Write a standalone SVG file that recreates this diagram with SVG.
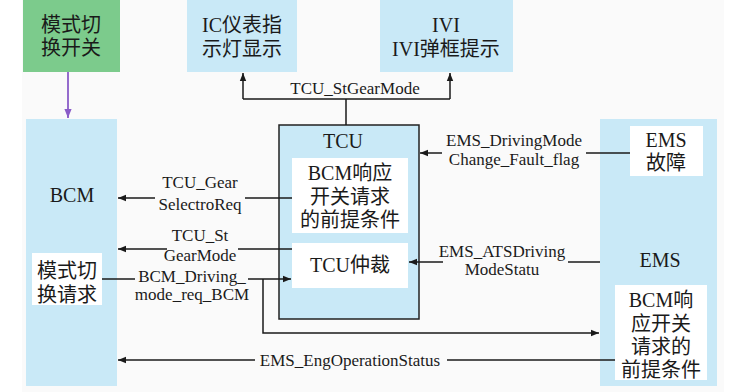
<svg xmlns="http://www.w3.org/2000/svg" width="733" height="392" viewBox="0 0 733 392">
<defs>
<style>
.t{font-family:"Liberation Serif","Noto Sans CJK SC",serif;fill:#1a1a1a;text-anchor:middle}
.n{font-size:20px}
.l{font-size:17px}
.blue{fill:#c9e9f7}
.wh{fill:#ffffff}
.ln{stroke:#1a1a1a;stroke-width:1.5;fill:none}
</style>
<marker id="ah" viewBox="0 0 10 10" refX="10" refY="5" markerWidth="8" markerHeight="8" markerUnits="userSpaceOnUse" orient="auto">
<path d="M0,1 L10,5 L0,9 Z" fill="#1a1a1a"/>
</marker>
<marker id="ap" viewBox="0 0 10 10" refX="10" refY="5" markerWidth="9" markerHeight="9" markerUnits="userSpaceOnUse" orient="auto">
<path d="M0,1 L10,5 L0,9 Z" fill="#8a5cc8"/>
</marker>
</defs>
<rect x="0" y="0" width="733" height="392" fill="#ffffff"/>
<rect x="22" y="0" width="702" height="392" fill="#fafafa"/>

<g id="switch">
<rect x="23" y="0" width="97" height="72" fill="#7ccb8c"/>
<text class="t n" x="71" y="32">模式切</text>
<text class="t n" x="71" y="55">换开关</text>
</g>
<g id="ic">
<rect x="187" y="0" width="110" height="72" class="blue"/>
<text class="t n" x="242" y="32">IC仪表指</text>
<text class="t n" x="242" y="56">示灯显示</text>
</g>
<g id="ivi">
<rect x="380" y="0" width="133" height="72" class="blue"/>
<text class="t n" x="446" y="32">IVI</text>
<text class="t n" x="446" y="56">IVI弹框提示</text>
</g>
<g id="bcm">
<rect x="26" y="119" width="91" height="267" class="blue"/>
<text class="t n" x="72" y="202">BCM</text>
<rect x="32" y="253" width="70" height="52" class="wh"/>
<text class="t n" x="67" y="278">模式切</text>
<text class="t n" x="67" y="302">换请求</text>
</g>
<g id="tcu">
<rect x="279" y="125" width="140" height="194" class="blue" stroke="#222" stroke-width="1.5"/>
<text class="t n" x="343" y="148">TCU</text>
<rect x="292" y="158" width="116" height="75" class="wh"/>
<text class="t n" x="350" y="180">BCM响应</text>
<text class="t n" x="350" y="204">开关请求</text>
<text class="t n" x="350" y="227">的前提条件</text>
<rect x="292" y="243" width="116" height="45" class="wh"/>
<text class="t n" x="350" y="272">TCU仲裁</text>
</g>
<g id="ems">
<rect x="600" y="119" width="117" height="267" class="blue"/>
<rect x="630" y="126" width="73" height="50" class="wh"/>
<text class="t n" x="666" y="147">EMS</text>
<text class="t n" x="666" y="170">故障</text>
<text class="t n" x="660" y="267">EMS</text>
<rect x="615" y="285" width="92" height="95" class="wh"/>
<text class="t n" x="661" y="307">BCM响</text>
<text class="t n" x="661" y="331">应开关</text>
<text class="t n" x="661" y="354">请求的</text>
<text class="t n" x="661" y="377">前提条件</text>
</g>

<g id="connectors">
<line x1="68" y1="72" x2="68" y2="118" stroke="#8a5cc8" stroke-width="1.8" marker-end="url(#ap)"/>

<path class="ln" d="M346,125 V99 M243,99 H450"/>
<line class="ln" x1="243" y1="99" x2="243" y2="73" marker-end="url(#ah)"/>
<line class="ln" x1="450" y1="99" x2="450" y2="73" marker-end="url(#ah)"/>
<text class="t l" x="355" y="94">TCU_StGearMode</text>

<line class="ln" x1="630" y1="153" x2="586" y2="153"/>
<line class="ln" x1="442" y1="153" x2="420" y2="153" marker-end="url(#ah)"/>
<text class="t l" x="514" y="146">EMS_DrivingMode</text>
<text class="t l" x="514" y="165">Change_Fault_flag</text>

<line class="ln" x1="600" y1="262" x2="568" y2="262"/>
<line class="ln" x1="443" y1="262" x2="409" y2="262" marker-end="url(#ah)"/>
<text class="t l" x="502" y="257">EMS_ATSDriving</text>
<text class="t l" x="502" y="275">ModeStatu</text>

<line class="ln" x1="292" y1="198" x2="245" y2="198"/>
<line class="ln" x1="155" y1="198" x2="118" y2="198" marker-end="url(#ah)"/>
<text class="t l" x="200" y="188">TCU_Gear</text>
<text class="t l" x="200" y="210">SelectroReq</text>

<line class="ln" x1="292" y1="249" x2="238" y2="249"/>
<line class="ln" x1="167" y1="249" x2="118" y2="249" marker-end="url(#ah)"/>
<text class="t l" x="200" y="241">TCU_St</text>
<text class="t l" x="200" y="261">GearMode</text>

<line class="ln" x1="102" y1="279" x2="135" y2="279"/>
<line class="ln" x1="248" y1="279" x2="291" y2="279" marker-end="url(#ah)"/>
<path class="ln" d="M263,279 V333 H599" marker-end="url(#ah)"/>
<text class="t l" x="192" y="282">BCM_Driving_</text>
<text class="t l" x="192" y="300">mode_req_BCM</text>

<line class="ln" x1="615" y1="360" x2="447" y2="360"/>
<line class="ln" x1="255" y1="360" x2="118" y2="360" marker-end="url(#ah)"/>
<text class="t l" x="350" y="366">EMS_EngOperationStatus</text>
</g>
</svg>
